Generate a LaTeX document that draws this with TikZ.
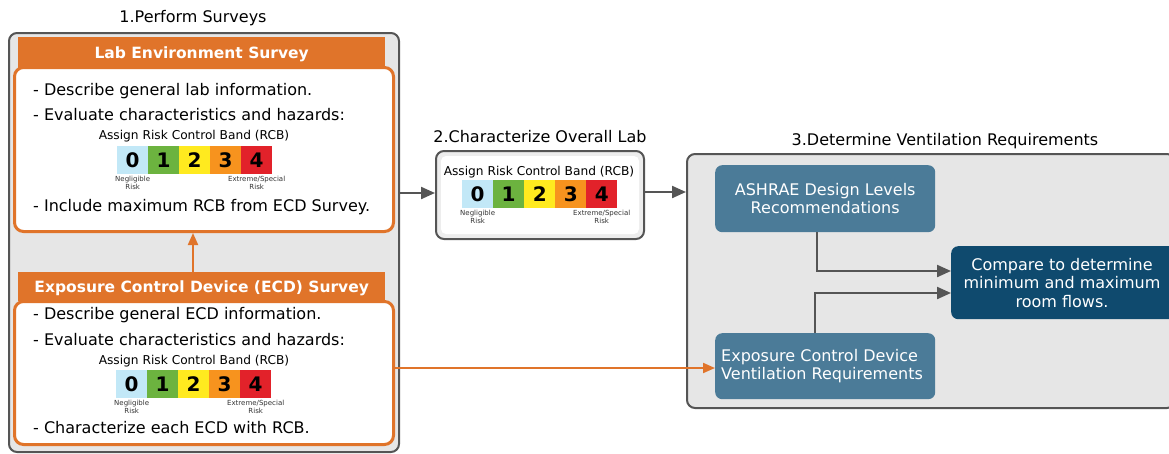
\documentclass[tikz,border=0pt]{standalone}
\usepackage{fontspec}
\setmainfont{DejaVu Sans}
\usetikzlibrary{arrows.meta,calc}
\definecolor{orng}{HTML}{E0742A}
\definecolor{panel}{HTML}{E6E6E6}
\definecolor{edge}{HTML}{555555}
\definecolor{steel}{HTML}{4B7B98}
\definecolor{navy}{HTML}{0F4A6E}
\definecolor{rcbA}{HTML}{C2E8F7}
\definecolor{rcbB}{HTML}{6CB33F}
\definecolor{rcbC}{HTML}{FFEA1F}
\definecolor{rcbD}{HTML}{F7931E}
\definecolor{rcbE}{HTML}{E2222A}
\tikzset{
  panelbox/.style={draw=edge, line width=2pt, fill=panel, rounded corners=8pt},
  header/.style={fill=orng, inner sep=0pt, anchor=north west},
  headtxt/.style={text=white, font=\fontsize{15.5}{17}\selectfont\bfseries, inner sep=0pt},
  whitebox/.style={draw=orng, line width=3pt, fill=white, rounded corners=9pt, inner sep=0pt, anchor=north west},
  bodytxt/.style={font=\fontsize{16}{18}\selectfont, anchor=west, inner sep=0pt},
  smalltxt/.style={font=\fontsize{12.2}{14}\selectfont, inner sep=0pt},
  titletxt/.style={font=\fontsize{16}{18}\selectfont, inner sep=0pt},
  rcbcell/.style={minimum width=31pt, minimum height=28pt, inner sep=0pt, anchor=north west, font=\fontsize{20}{20}\selectfont\bfseries},
  tinylbl/.style={font=\fontsize{7}{7.5}\selectfont, align=center, inner sep=0pt, anchor=north, text=black!80},
  bluebox/.style={fill=steel, rounded corners=7pt, inner sep=0pt, anchor=north west},
  bluetxt/.style={text=white, font=\fontsize{16}{18.5}\selectfont, inner sep=0pt},
  greyarrow/.style={draw=edge, line width=2.2pt, -{Triangle[length=14pt,width=12pt]}},
  orngarrow/.style={draw=orng, line width=2pt, -{Triangle[length=12pt,width=10pt]}},
}
\newcommand\rcbbar[3]{%
  \foreach \i/\c in {0/rcbA,1/rcbB,2/rcbC,3/rcbD,4/rcbE}{
    \node[rcbcell, fill=\c] (#1\i) at ({#2+31*\i},#3) {\i};
  }
  \node[tinylbl] (#1neg) at ([yshift=-2pt]#10.south) {Negligible\\Risk};
  \node[tinylbl] (#1ext) at ([yshift=-2pt]#14.south) {Extreme/Special\\Risk};
}
\begin{document}
\begin{tikzpicture}[x=1pt,y=-1pt]
\useasboundingbox (0,0) rectangle (1169,453);
% ---- Panel 1
\node[titletxt] (t1) at (193,18) {1.Perform Surveys};
\node[panelbox, minimum width=390pt, minimum height=419pt, anchor=north west, inner sep=0pt] (p1) at (8,32) {};
\node[header, minimum width=367pt, minimum height=31pt] (h1) at (18,37) {};
\node[headtxt] (h1t) at ($(h1.center)+(0,1.5)$) {Lab Environment Survey};
\node[whitebox, minimum width=379pt, minimum height=164pt] (w1) at (13,66) {};
\node[bodytxt] (l1a) at (33,91) {- Describe general lab information.};
\node[bodytxt] (l1b) at (33,115) {- Evaluate characteristics and hazards:};
\node[smalltxt] (a1) at (194,136) {Assign Risk Control Band (RCB)};
\rcbbar{ba}{117}{146}
\node[bodytxt] (l1c) at (33,207) {- Include maximum RCB from ECD Survey.};
\node[header, minimum width=367pt, minimum height=29pt] (h2) at (18,272) {};
\node[headtxt] (h2t) at ($(h2.center)+(0,1.5)$) {Exposure Control Device (ECD) Survey};
\node[whitebox, minimum width=379pt, minimum height=143pt] (w2) at (13,300) {};
\node[bodytxt] (l2a) at (33,315) {- Describe general ECD information.};
\node[bodytxt] (l2b) at (33,340) {- Evaluate characteristics and hazards:};
\node[smalltxt] (a2) at (194,361) {Assign Risk Control Band (RCB)};
\rcbbar{bb}{116}{370}
\node[bodytxt] (l2c) at (33,428) {- Characterize each ECD with RCB.};
\draw[orngarrow] (h2.north -| 193,0) -- (w1.south -| 193,0);
% ---- Panel 2
\node[titletxt] (t2) at (540,137) {2.Characterize Overall Lab};
\node[draw=edge, line width=2pt, fill=gray!14, rounded corners=8pt, minimum width=208pt, minimum height=88pt, anchor=north west, inner sep=0pt] (p2) at (435,150) {};
\node[fill=white, rounded corners=5pt, minimum width=198pt, minimum height=78pt, inner sep=0pt] (p2in) at (p2.center) {};
\node[smalltxt] (a3) at (539,172) {Assign Risk Control Band (RCB)};
\rcbbar{bc}{462}{180}
% ---- Panel 3
\node[titletxt] (t3) at (945,141) {3.Determine Ventilation Requirements};
\node[panelbox, minimum width=488pt, minimum height=254pt, anchor=north west, inner sep=0pt] (p3) at (686,153) {};
\node[bluebox, minimum width=220pt, minimum height=67pt] (ash) at (715,165) {};
\node[bluetxt, align=center] (asht) at (ash.center) {ASHRAE Design Levels\\Recommendations};
\node[bluebox, fill=navy, minimum width=226pt, minimum height=73pt] (cmp) at (951,246) {};
\node[bluetxt, align=center] (cmpt) at (1062,283) {Compare to determine\\minimum and maximum\\room flows.};
\node[bluebox, minimum width=220pt, minimum height=66pt] (ecv) at (715,333) {};
\node[bluetxt, align=left, anchor=west] (ecvt) at (721,366) {Exposure Control Device\\Ventilation Requirements};
% ---- connectors
\draw[greyarrow] (p1.east |- 0,193) -- (p2.west |- 0,193);
\draw[greyarrow] (p2.east |- 0,192) -- (p3.west |- 0,192);
\draw[greyarrow] (ash.south -| 817,0) |- (cmp.west |- 0,271);
\draw[greyarrow] (ecv.north -| 815,0) |- (cmp.west |- 0,293);
\draw[orngarrow] (w2.east |- 0,368) -- (ecv.west |- 0,368);
\end{tikzpicture}
\end{document}
